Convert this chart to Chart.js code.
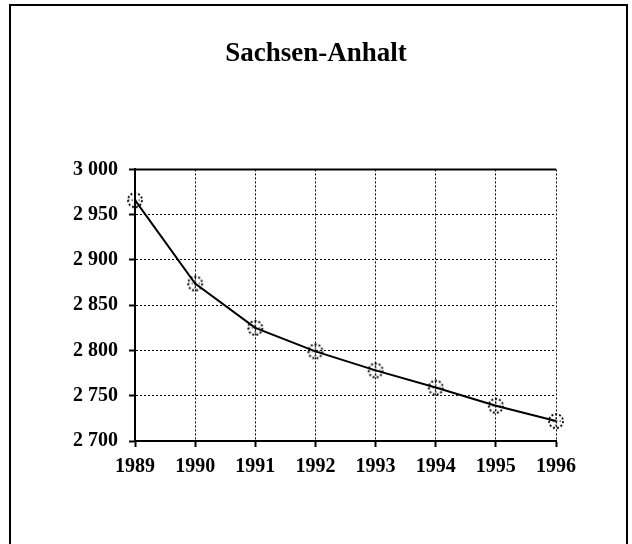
<!DOCTYPE html>
<html>
<head>
<meta charset="utf-8">
<script src="https://cdn.jsdelivr.net/npm/chart.js@4/dist/chart.umd.min.js"></script>
<style>
  html, body { margin: 0; padding: 0; background: #fff; overflow: hidden; }
  #frame { position: absolute; left: 9px; top: 4px; width: 619px; height: 600px; border: 2px solid #000; box-sizing: border-box; }
  #c { position: absolute; left: 0; top: 0; }
</style>
</head>
<body>
<div id="frame"></div>
<canvas id="c" width="632" height="544"></canvas>
<script>
const titleText = 'Sachsen-Anhalt';
const years = ['1989', '1990', '1991', '1992', '1993', '1994', '1995', '1996'];
const population = [2966, 2874, 2825, 2799, 2778, 2759, 2739, 2722];
const yMin = 2700;
const yMax = 3000;
const yStep = 50;

function fmt(v) {
  const s = String(Math.round(v));
  return s.length > 3 ? s.slice(0, s.length - 3) + ' ' + s.slice(-3) : s;
}

// dotted circle marker
function makeMarker() {
  const c = document.createElement('canvas');
  c.width = 20; c.height = 20;
  const g = c.getContext('2d');
  g.strokeStyle = '#000';
  g.lineWidth = 1.8;
  g.setLineDash([2, 2]);
  g.beginPath();
  g.arc(10, 10, 7, 0, Math.PI * 2);
  g.stroke();
  g.setLineDash([1.5, 2]);
  g.lineWidth = 1.2;
  g.beginPath();
  g.moveTo(10, 3); g.lineTo(10, 17);
  g.moveTo(3, 10); g.lineTo(17, 10);
  g.stroke();
  return c;
}
const marker = makeMarker();

const topEdge = {
  id: 'topEdge',
  afterDraw(chart) {
    const a = chart.chartArea, ctx = chart.ctx;
    ctx.save();
    ctx.strokeStyle = '#000';
    ctx.lineWidth = 2;
    ctx.beginPath();
    ctx.moveTo(a.left, a.top);
    ctx.lineTo(a.right, a.top);
    ctx.stroke();
    ctx.restore();
  }
};

const serif = "'Liberation Serif', 'DejaVu Serif', serif";

new Chart(document.getElementById('c'), {
  type: 'line',
  data: {
    labels: years,
    datasets: [{
      data: population,
      borderColor: '#000',
      borderWidth: 2,
      tension: 0,
      pointStyle: marker,
      pointRadius: 8,
      fill: false,
      yAxisID: 'y'
    }]
  },
  options: {
    responsive: false,
    animation: false,
    layout: { padding: { left: 0, right: 0, top: 0, bottom: 63 } },
    plugins: {
      legend: { display: false },
      tooltip: { enabled: false },
      title: {
        display: true,
        text: titleText,
        color: '#000',
        font: { family: serif, size: 27, weight: 'bold' },
        padding: { top: 38, bottom: 99 }
      }
    },
    scales: {
      x: {
        offset: false,
        afterFit: (s) => { s.height = 40; },
        grid: { color: '#000', lineWidth: 1, tickLength: 6, tickColor: '#000', tickWidth: 2, tickBorderDash: [] },
        border: { display: true, color: '#000', width: 2, dash: [2, 2] },
        ticks: { color: '#000', padding: 8, font: { family: serif, size: 20, weight: 'bold' }, maxRotation: 0 }
      },
      y: {
        min: yMin,
        max: yMax,
        afterFit: (s) => { s.width = 135; },
        grid: { color: '#000', lineWidth: 1, tickLength: 6, tickColor: '#000', tickWidth: 2, tickBorderDash: [] },
        border: { display: true, color: '#000', width: 2, dash: [2, 2] },
        ticks: {
          stepSize: yStep,
          color: '#000',
          padding: 11,
          font: { family: serif, size: 20, weight: 'bold' },
          callback: (v) => fmt(v)
        }
      },
      yRight: {
        position: 'right',
        display: true,
        afterFit: (s) => { s.width = 76; },
        grid: { display: false, drawOnChartArea: false },
        border: { display: false },
        ticks: { display: false }
      }
    }
  },
  plugins: [topEdge]
});
</script>
</body>
</html>
